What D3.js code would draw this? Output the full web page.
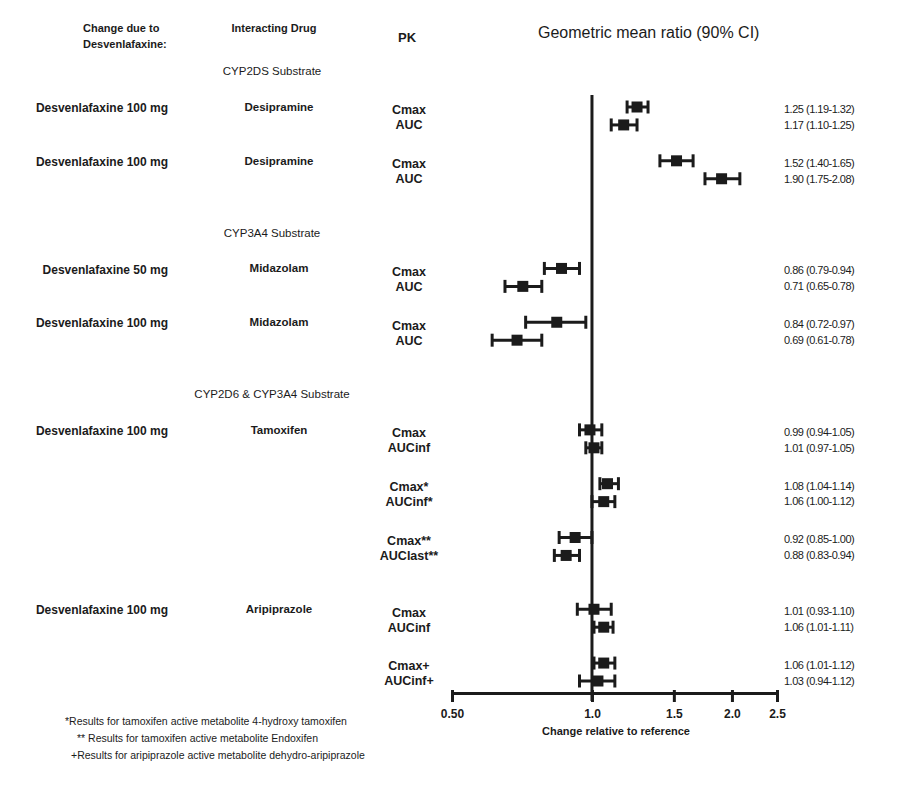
<!DOCTYPE html>
<html>
<head>
<meta charset="utf-8">
<script src="https://cdn.jsdelivr.net/npm/d3@7"></script>
<style>
  body { margin: 0; background: #fff; }
  svg { font-family: "Liberation Sans", Arial, sans-serif; }
</style>
</head>
<body>
<div id="chart-container"></div>
<script>
// one entry per plotted row
const pkLabels = ['Cmax', 'AUC', 'Cmax', 'AUC', 'Cmax', 'AUC', 'Cmax', 'AUC',
  'Cmax', 'AUCinf', 'Cmax*', 'AUCinf*', 'Cmax**', 'AUClast**',
  'Cmax', 'AUCinf', 'Cmax+', 'AUCinf+'];
const gmr = [1.25, 1.17, 1.52, 1.90, 0.86, 0.71, 0.84, 0.69,
  0.99, 1.01, 1.08, 1.06, 0.92, 0.88, 1.01, 1.06, 1.06, 1.03];
const ciLow = [1.19, 1.10, 1.40, 1.75, 0.79, 0.65, 0.72, 0.61,
  0.94, 0.97, 1.04, 1.00, 0.85, 0.83, 0.93, 1.01, 1.01, 0.94];
const ciHigh = [1.32, 1.25, 1.65, 2.08, 0.94, 0.78, 0.97, 0.78,
  1.05, 1.05, 1.14, 1.12, 1.00, 0.94, 1.10, 1.11, 1.12, 1.12];
const rowGroup = [0, 0, 1, 1, 2, 2, 3, 3, 4, 4, 4, 4, 4, 4, 5, 5, 5, 5];

// one entry per drug group
const doseLabels = ['Desvenlafaxine 100 mg', 'Desvenlafaxine 100 mg', 'Desvenlafaxine 50 mg',
  'Desvenlafaxine 100 mg', 'Desvenlafaxine 100 mg', 'Desvenlafaxine 100 mg'];
const drugLabels = ['Desipramine', 'Desipramine', 'Midazolam', 'Midazolam', 'Tamoxifen', 'Aripiprazole'];
const groupSection = [0, 0, 1, 1, 2, 2];

const sectionLabels = ['CYP2DS Substrate', 'CYP3A4 Substrate', 'CYP2D6 & CYP3A4 Substrate'];

const tickValues = [0.5, 1.0, 1.5, 2.0, 2.5];
const tickLabels = ['0.50', '1.0', '1.5', '2.0', '2.5'];

const footnotes = [
  '*Results for tamoxifen active metabolite 4-hydroxy tamoxifen',
  '** Results for tamoxifen active metabolite Endoxifen',
  '+Results for aripiprazole active metabolite dehydro-aripiprazole'
];

const width = 908, height = 787;
const ink = '#1b1b1b';

// work out a slot number for every row (pairs, doses, drugs, sections)
const rowSlot = [];
const sectionSlot = [];
let slot = -2;
pkLabels.forEach((_, i) => {
  const g = rowGroup[i];
  const prevG = i > 0 ? rowGroup[i - 1] : -1;
  if (i === 0) {
    sectionSlot.push(slot);
    slot += 2;
  } else if (groupSection[g] !== groupSection[prevG]) {
    slot += 3;
    sectionSlot.push(slot);
    slot += 2;
  } else if (g !== prevG) {
    slot += drugLabels[g] === drugLabels[prevG] ? 2 : 3;
  } else if (i % 2 === 0) {
    slot += 2;
  } else {
    slot += 1;
  }
  rowSlot.push(slot);
});

const y = d3.scaleLinear().domain([0, d3.max(rowSlot)]).range([107, 681]);
const x = d3.scaleLog().domain([0.5, 2.5]).range([452, 777]);
const axisY = 693;

const svg = d3.select('#chart-container')
  .append('svg')
  .attr('width', width)
  .attr('height', height);

// column headers
const head = svg.append('g').attr('fill', ink).style('font-weight', 'bold');
head.append('text').attr('x', 83).attr('y', 32).style('font-size', '11px').text('Change due to');
head.append('text').attr('x', 83).attr('y', 48).style('font-size', '11px').text('Desvenlafaxine:');
head.append('text').attr('x', 274).attr('y', 32).attr('text-anchor', 'middle')
  .style('font-size', '11px').text('Interacting Drug');
head.append('text').attr('x', 407).attr('y', 42).attr('text-anchor', 'middle')
  .style('font-size', '13px').text('PK');
head.append('text').attr('x', 538).attr('y', 38)
  .style('font-size', '16px').style('font-weight', 'normal').text('Geometric mean ratio (90% CI)');

// section headings
svg.append('g')
  .selectAll('text')
  .data(sectionLabels)
  .join('text')
  .attr('x', 272)
  .attr('y', (d, i) => y(sectionSlot[i]))
  .attr('dy', '0.35em')
  .attr('text-anchor', 'middle')
  .attr('fill', ink)
  .style('font-size', '11.5px')
  .text(d => d);

// dose + drug labels, on the first row of each group
const firstRow = doseLabels.map((_, g) => rowGroup.indexOf(g));
const groups = svg.append('g').attr('fill', ink).style('font-weight', 'bold').style('font-size', '12px');
groups.selectAll('.dose')
  .data(doseLabels)
  .join('text')
  .attr('class', 'dose')
  .attr('x', 168)
  .attr('y', (d, g) => y(rowSlot[firstRow[g]]) + 1)
  .attr('dy', '0.35em')
  .attr('text-anchor', 'end')
  .text(d => d);
groups.selectAll('.drug')
  .data(drugLabels)
  .join('text')
  .attr('class', 'drug')
  .attr('x', 279)
  .attr('y', (d, g) => y(rowSlot[firstRow[g]]))
  .attr('dy', '0.35em')
  .attr('text-anchor', 'middle')
  .style('font-size', '11.5px')
  .text(d => d);

// PK labels
svg.append('g')
  .selectAll('text')
  .data(pkLabels)
  .join('text')
  .attr('x', 409)
  .attr('y', (d, i) => y(rowSlot[i]) + (i % 2 === 0 ? 3 : 0))
  .attr('dy', '0.35em')
  .attr('text-anchor', 'middle')
  .attr('fill', ink)
  .style('font-weight', 'bold')
  .style('font-size', '12.5px')
  .text(d => d);

// reference line at 1.0
svg.append('line')
  .attr('x1', x(1)).attr('x2', x(1))
  .attr('y1', 95).attr('y2', axisY + 8)
  .attr('stroke', ink)
  .attr('stroke-width', 3);

// x axis
const axis = svg.append('g')
  .attr('transform', `translate(0, ${axisY})`)
  .call(d3.axisBottom(x)
    .tickValues(tickValues)
    .tickFormat((d, i) => tickLabels[i])
    .tickSize(9)
    .tickSizeOuter(0));
axis.select('.domain').attr('stroke', ink).attr('stroke-width', 3);
axis.selectAll('.tick line').attr('stroke', ink).attr('stroke-width', 3).attr('y1', -3);
axis.selectAll('.tick text')
  .attr('fill', ink)
  .attr('y', 16)
  .style('font-size', '12px')
  .style('font-weight', 'bold')
  .style('font-family', '"Liberation Sans", Arial, sans-serif');

svg.append('text')
  .attr('x', 616)
  .attr('y', 735)
  .attr('text-anchor', 'middle')
  .attr('fill', ink)
  .style('font-size', '11px')
  .style('font-weight', 'bold')
  .text('Change relative to reference');

// CIs and point estimates
const rows = svg.append('g')
  .selectAll('g')
  .data(gmr)
  .join('g')
  .attr('transform', (d, i) => `translate(0, ${y(rowSlot[i])})`);

rows.append('line')
  .attr('x1', (d, i) => x(ciLow[i]))
  .attr('x2', (d, i) => x(ciHigh[i]))
  .attr('stroke', ink)
  .attr('stroke-width', 3);
rows.append('line')
  .attr('x1', (d, i) => x(ciLow[i])).attr('x2', (d, i) => x(ciLow[i]))
  .attr('y1', -6.5).attr('y2', 6.5)
  .attr('stroke', ink).attr('stroke-width', 3);
rows.append('line')
  .attr('x1', (d, i) => x(ciHigh[i])).attr('x2', (d, i) => x(ciHigh[i]))
  .attr('y1', -6.5).attr('y2', 6.5)
  .attr('stroke', ink).attr('stroke-width', 3);
rows.append('rect')
  .attr('x', d => x(d) - 5.5)
  .attr('y', -5.5)
  .attr('width', 11)
  .attr('height', 11)
  .attr('fill', ink);

// value text on the right
svg.append('g')
  .selectAll('text')
  .data(gmr)
  .join('text')
  .attr('x', 784)
  .attr('y', (d, i) => y(rowSlot[i]) + (i % 2 === 0 ? 2 : 0))
  .attr('dy', '0.35em')
  .attr('fill', ink)
  .style('font-size', '11px')
  .style('letter-spacing', '-0.5px')
  .text((d, i) => `${d.toFixed(2)} (${ciLow[i].toFixed(2)}-${ciHigh[i].toFixed(2)})`);

// footnotes
svg.append('g')
  .selectAll('text')
  .data(footnotes)
  .join('text')
  .attr('x', (d, i) => [65, 77, 71][i])
  .attr('y', (d, i) => 725 + i * 17)
  .attr('fill', ink)
  .style('font-size', '10.5px')
  .text(d => d);
</script>
</body>
</html>
